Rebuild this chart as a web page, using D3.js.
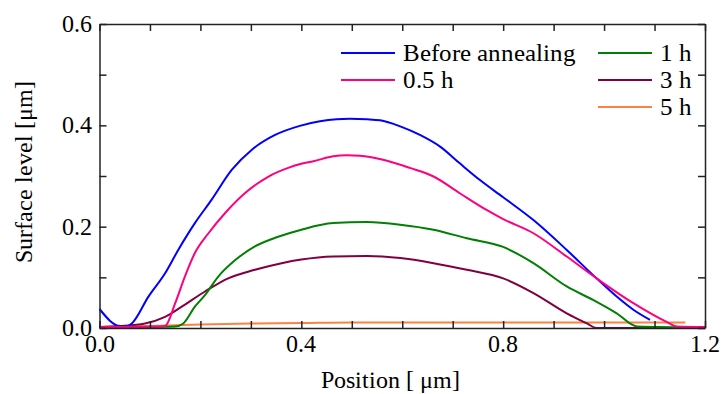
<!DOCTYPE html>
<html>
<head>
<meta charset="utf-8">
<script src="https://cdn.jsdelivr.net/npm/d3@7"></script>
<style>
  @font-face { font-family: 'ChartSerif'; src: local('Liberation Serif'), local('LiberationSerif-Regular'), local('Times New Roman'), local('DejaVu Serif'); }
  #chart, #chart text { font-family: 'ChartSerif', 'Liberation Serif', 'Times New Roman', Tinos, 'DejaVu Serif', serif; }
</style>
</head>
<body style="margin:0; font-family: 'Liberation Serif', serif">
<svg id="chart" width="722" height="394" font-family="Liberation Serif"></svg>
<script>
// data: [position um, surface level um]
const before = [[0, 0.0375], [0.041, 0.004], [0.056, 0.004], [0.064, 0.009], [0.097, 0.062], [0.13, 0.108], [0.156, 0.154],
  [0.189, 0.207], [0.222, 0.253], [0.262, 0.312], [0.302, 0.352], [0.348, 0.381], [0.397, 0.399], [0.437, 0.408],
  [0.47, 0.412], [0.496, 0.413], [0.53, 0.412], [0.556, 0.41], [0.596, 0.398], [0.635, 0.381], [0.675, 0.358],
  [0.714, 0.325], [0.754, 0.292], [0.80, 0.258], [0.86, 0.213], [0.926, 0.154], [0.985, 0.098], [1.025, 0.062],
  [1.058, 0.036], [1.091, 0.016]];
const h05 = [[0, 0.002], [0.12, 0.003], [0.13, 0.004], [0.15, 0.049], [0.169, 0.101], [0.189, 0.148], [0.216, 0.187],
  [0.249, 0.227], [0.288, 0.266], [0.335, 0.299], [0.374, 0.316], [0.40, 0.324], [0.424, 0.329], [0.463, 0.339],
  [0.49, 0.341], [0.516, 0.34], [0.562, 0.332], [0.615, 0.316], [0.662, 0.299], [0.714, 0.266], [0.767, 0.233],
  [0.80, 0.215], [0.86, 0.187], [0.926, 0.141], [0.985, 0.098], [1.058, 0.049], [1.124, 0.012], [1.144, 0.003], [1.2, 0.002]];
const h1 = [[0, 0.001], [0.15, 0.003], [0.166, 0.009], [0.189, 0.042], [0.209, 0.065], [0.235, 0.101], [0.269, 0.134],
  [0.308, 0.161], [0.354, 0.18], [0.40, 0.194], [0.463, 0.207], [0.53, 0.209], [0.596, 0.204], [0.662, 0.194],
  [0.728, 0.177], [0.80, 0.16], [0.86, 0.128], [0.926, 0.082], [0.979, 0.055], [1.025, 0.029], [1.065, 0.003], [1.2, 0.001]];
const h3 = [[0, 0.002], [0.04, 0.004], [0.09, 0.009], [0.13, 0.022], [0.163, 0.042], [0.209, 0.072], [0.255, 0.098],
  [0.308, 0.115], [0.361, 0.128], [0.40, 0.135], [0.463, 0.141], [0.53, 0.142], [0.596, 0.138], [0.662, 0.128],
  [0.728, 0.115], [0.80, 0.098], [0.86, 0.069], [0.926, 0.029], [0.966, 0.009], [0.985, 0.0], [1.144, 0.0]];
const h5 = [[0, 0.002], [0.1, 0.004], [0.2, 0.007], [0.3, 0.009], [0.4, 0.01], [0.5, 0.011], [0.6, 0.011],
  [0.8, 0.011], [1.0, 0.011], [1.161, 0.011]];

const seriesNames = ['Before annealing', '0.5 h', '1 h', '3 h', '5 h'];
const seriesData = [before, h05, h1, h3, h5];
const seriesColors = ['#0000ff', '#ff0080', '#008000', '#800040', '#ff8040'];

const xTicks = [0, 0.4, 0.8, 1.2];
const yTicks = [0, 0.2, 0.4, 0.6];

const width = 722, height = 394;
const margin = { left: 99.5, right: 17, top: 24, bottom: 66 };

const svg = d3.select('#chart');

const x = d3.scaleLinear()
  .domain([0, 1.2])
  .range([margin.left, width - margin.right]);

const y = d3.scaleLinear()
  .domain([0, 0.6])
  .range([height - margin.bottom, margin.top]);

// all the text goes through here so the serif face sticks
function label(sel, size) {
  return sel
    .attr('font-family', 'Liberation Serif')
    .style('font-family', "'ChartSerif', 'Liberation Serif', 'Times New Roman', 'DejaVu Serif', serif")
    .style('font-size', size + 'px')
    .attr('fill', '#000');
}

// curves
const line = d3.line()
  .curve(d3.curveMonotoneX)
  .x(d => x(d[0]))
  .y(d => y(d[1]));

// drawn in order so the later series sit on top
const drawOrder = [4, 3, 2, 0, 1];
drawOrder.forEach(i => {
  svg.append('path')
    .datum(seriesData[i])
    .attr('fill', 'none')
    .attr('stroke', seriesColors[i])
    .attr('stroke-width', 2)
    .attr('d', line);
});

// axes, ticks inward on all four sides
const minorX = d3.range(0, 13).map(i => i / 10);
const minorY = d3.range(0, 7).map(i => i / 10);
const tickLen = 7;

const xAxisB = d3.axisBottom(x).tickValues(minorX).tickSizeInner(-tickLen).tickSizeOuter(0).tickFormat('');
const xAxisT = d3.axisTop(x).tickValues(minorX).tickSizeInner(-tickLen).tickSizeOuter(0).tickFormat('');
const yAxisL = d3.axisLeft(y).tickValues(minorY).tickSizeInner(-tickLen).tickSizeOuter(0).tickFormat('');
const yAxisR = d3.axisRight(y).tickValues(minorY).tickSizeInner(-tickLen).tickSizeOuter(0).tickFormat('');

svg.append('g').attr('transform', `translate(0,${y(0)})`).call(xAxisB);
svg.append('g').attr('transform', `translate(0,${y(0.6)})`).call(xAxisT);
svg.append('g').attr('transform', `translate(${x(0)},0)`).call(yAxisL);
svg.append('g').attr('transform', `translate(${x(1.2)},0)`).call(yAxisR);

svg.selectAll('.domain, .tick line')
  .attr('stroke', '#222')
  .attr('stroke-width', 1.5);

// tick labels
xTicks.forEach(d => {
  label(svg.append('text'), 24)
    .attr('x', x(d))
    .attr('y', y(0) + 24)
    .attr('text-anchor', 'middle')
    .text(d.toFixed(1));
});

yTicks.forEach(d => {
  label(svg.append('text'), 24)
    .attr('x', x(0) - 8)
    .attr('y', y(d) + 8)
    .attr('text-anchor', 'end')
    .text(d.toFixed(1));
});

// axis titles
label(svg.append('text'), 24)
  .attr('x', 390)
  .attr('y', 388)
  .attr('text-anchor', 'middle')
  .text('Position [ μm]');

label(svg.append('text'), 24)
  .attr('transform', 'translate(32,172) rotate(-90)')
  .attr('text-anchor', 'middle')
  .text('Surface level [μm]');

// legend
const legendPos = [[341, 53], [341, 80], [598, 53], [598, 80], [598, 107]];
seriesNames.forEach((name, k) => {
  const [lx, ly] = legendPos[k];
  svg.append('line')
    .attr('x1', lx).attr('x2', lx + 54)
    .attr('y1', ly).attr('y2', ly)
    .attr('stroke', seriesColors[k])
    .attr('stroke-width', 2);
  label(svg.append('text'), 24.5)
    .attr('x', lx + 62)
    .attr('y', ly + 8)
    .text(name);
});
</script>
</body>
</html>
